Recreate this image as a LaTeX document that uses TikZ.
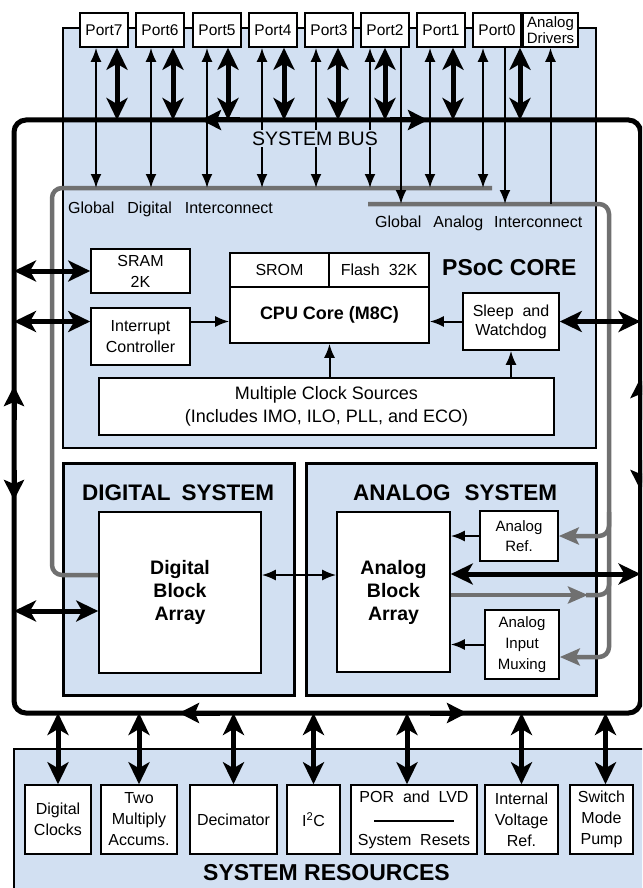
\documentclass[tikz,border=0pt]{standalone}
\usepackage{fontspec}
\setmainfont{Liberation Sans}
\usepackage{tikz}
\usetikzlibrary{arrows.meta,calc}
\definecolor{coreblue}{RGB}{210,224,242}
\definecolor{linkgrey}{RGB}{112,112,112}
\newcommand{\sizept}[2]{\fontsize{#1}{#2}\selectfont}
\tikzset{
  panel/.style={draw=black,line width=2pt,fill=coreblue},
  subpanel/.style={draw=black,line width=3pt,fill=coreblue},
  blockbox/.style={draw=black,line width=1.6pt,fill=white,align=center,
    inner sep=1pt,font=\sizept{16}{21}},
  portbox/.style={blockbox,minimum width=48,minimum height=34,font=\sizept{15.5}{18}},
  titletxt/.style={font=\bfseries\sizept{22.5}{26},anchor=base west,inner sep=0pt},
  linktxt/.style={font=\sizept{16}{18},anchor=base west,inner sep=0pt},
  sigarrow/.style={line width=2pt,-{Latex[length=14pt,width=11pt]}},
  sigboth/.style={line width=2pt,{Latex[length=14pt,width=11pt]}-{Latex[length=14pt,width=11pt]}},
  fatarrow/.style={line width=5pt,
    {Stealth[length=22pt,width=21pt,inset=6pt]}-{Stealth[length=22pt,width=21pt,inset=6pt]}},
  busline/.style={line width=5pt,rounded corners=12pt},
  bustip/.style={line width=5pt,-{Stealth[length=20pt,width=20pt,inset=4pt]}},
  linkline/.style={draw=linkgrey,line width=4.5pt,rounded corners=10pt},
  linktip/.style={linkline,-{Stealth[length=20pt,width=17pt,inset=4pt]}}
}

\begin{document}
\begin{tikzpicture}[x=1pt,y=-1pt]
  \useasboundingbox (0,0) rectangle (642,888);
  \clip (0,0) rectangle (642,888);
  % panels
  \draw[panel] (63,28) rectangle (596,448);
  \draw[subpanel] (63,463) rectangle (294,695);
  \draw[subpanel] (306,463) rectangle (596,695);
  \draw[panel] (14,749) rectangle (660,900);
  \coordinate (busnw) at (14,120);
  \coordinate (busse) at (640.5,713);
  \coordinate (gdi) at (492,188);
  \coordinate (gai) at (368,204);

  % ports
  \node[portbox] (p7) at (104,30) {Port7};
  \node[portbox] (p6) at (160,30) {Port6};
  \node[portbox] (p5) at (217,30) {Port5};
  \node[portbox] (p4) at (273,30) {Port4};
  \node[portbox] (p3) at (329,30) {Port3};
  \node[portbox] (p2) at (385,30) {Port2};
  \node[portbox] (p1) at (441,30) {Port1};
  \node[portbox] (p0) at (497,30) {Port0};
  \node[portbox,minimum width=55,font=\sizept{15}{16}] (drv) at (550.5,30) {Analog\\Drivers};

  % psoc core blocks
  \node[blockbox,minimum width=99,minimum height=44] (sram) at (140.5,271) {SRAM\\2K};
  \node[blockbox,minimum width=99,minimum height=57] (irq) at (140.5,336.5) {Interrupt\\Controller};
  \node[blockbox,minimum width=99,minimum height=34] (srom) at (279.5,270) {SROM};
  \node[blockbox,minimum width=100,minimum height=34] (flash) at (379,270) {Flash\ \ 32K};
  \node[blockbox,minimum width=199,minimum height=56,font=\bfseries\sizept{18}{22}] (cpu) at (329.5,315) {CPU Core (M8C)};
  \node[blockbox,minimum width=96,minimum height=57,font=\sizept{16}{19}] (sleep) at (511,321.5) {Sleep\ \ and\\Watchdog};
  \node[blockbox,minimum width=455,minimum height=57,font=\sizept{18}{23}] (clk) at (326.5,406.5) {Multiple Clock Sources\\(Includes IMO, ILO, PLL, and ECO)};

  % digital and analog systems
  \node[blockbox,minimum width=162,minimum height=161,font=\bfseries\sizept{19.5}{23}] (dba) at (180,592.5) {Digital\\Block\\Array};
  \node[blockbox,minimum width=113,minimum height=160,font=\bfseries\sizept{19.5}{23}] (aba) at (393.5,592) {Analog\\Block\\Array};
  \node[blockbox,minimum width=78,minimum height=50,font=\sizept{15}{20}] (aref) at (519,536) {Analog\\Ref.};
  \node[blockbox,minimum width=74,minimum height=69,font=\sizept{15}{21}] (amux) at (522,644.5) {Analog\\Input\\Muxing};

  % system resources
  \node[blockbox,minimum width=66,minimum height=69] (dclk) at (58,819.5) {Digital\\Clocks};
  \node[blockbox,minimum width=76,minimum height=69] (mac) at (139,819.5) {Two\\Multiply\\Accums.};
  \node[blockbox,minimum width=87,minimum height=69] (deci) at (233.5,819.5) {Decimator};
  \node[blockbox,minimum width=53,minimum height=69] (iic) at (313.5,819.5) {I\textsuperscript{2}C};
  \node[blockbox,minimum width=126,minimum height=69] (por) at (414,819.5) {POR\ \ and\ \ LVD\\[22pt]System\ \ Resets};
  \node[blockbox,minimum width=73,minimum height=69] (ivr) at (521.5,819.5) {Internal\\Voltage\\Ref.};
  \node[blockbox,minimum width=63,minimum height=69] (smp) at (601.5,819.5) {Switch\\Mode\\Pump};
  \draw[line width=1.2pt] ([xshift=-40pt,yshift=-1.5pt]por.center) -- ([xshift=40pt,yshift=-1.5pt]por.center);

  % global interconnect
  \draw[linkline] (gdi) -- (52,188) -- (52,575) -- ([yshift=17.5pt]dba.west);
  \draw[linktip] (gai) -- (609,204) -- (609,657) -- ([yshift=-12.5pt]amux.east);
  \draw[linktip] (609,512) -- (609,536) -- (aref.east);
  \draw[linktip] ([yshift=-3pt]aba.east) -- (588,595);
  \draw[linkline] (586,595) -- (609,595) -- (609,575);

  % port links
  \draw[sigboth] ([xshift=-8pt]p7.south) -- ([xshift=-8pt]p7.south |- gdi);
  \draw[sigboth] ([xshift=-9pt]p6.south) -- ([xshift=-9pt]p6.south |- gdi);
  \draw[sigboth] ([xshift=-10pt]p5.south) -- ([xshift=-10pt]p5.south |- gdi);
  \draw[sigboth] ([xshift=-11pt]p4.south) -- ([xshift=-11pt]p4.south |- gdi);
  \draw[sigboth] ([xshift=-13pt]p3.south) -- ([xshift=-13pt]p3.south |- gdi);
  \draw[sigboth] ([xshift=-15pt]p2.south) -- ([xshift=-15pt]p2.south |- gdi);
  \draw[sigboth] ([xshift=-11pt]p1.south) -- ([xshift=-11pt]p1.south |- gdi);
  \draw[sigboth] ([xshift=-14pt]p0.south) -- ([xshift=-14pt]p0.south |- gdi);
  \draw[sigarrow] ([xshift=16pt]p2.south) -- ([xshift=16pt]p2.south |- gai);
  \draw[sigarrow] ([xshift=8pt]p0.south) -- ([xshift=8pt]p0.south |- gai);
  \draw[sigarrow] (drv.south |- gai) -- (drv.south);
  \draw[fatarrow] ([xshift=13pt]p7.south) -- ([xshift=13pt]p7.south |- busnw);
  \draw[fatarrow] ([xshift=13pt]p6.south) -- ([xshift=13pt]p6.south |- busnw);
  \draw[fatarrow] ([xshift=11pt]p5.south) -- ([xshift=11pt]p5.south |- busnw);
  \draw[fatarrow] ([xshift=11pt]p4.south) -- ([xshift=11pt]p4.south |- busnw);
  \draw[fatarrow] ([xshift=9pt]p3.south) -- ([xshift=9pt]p3.south |- busnw);
  \draw[fatarrow] (p2.south) -- (p2.south |- busnw);
  \draw[fatarrow] ([xshift=12pt]p1.south) -- ([xshift=12pt]p1.south |- busnw);
  \draw[fatarrow] ([xshift=23pt]p0.south) -- ([xshift=23pt]p0.south |- busnw);

  % core links
  \draw[sigarrow] (irq.east |- sleep.west) -- (cpu.west |- sleep.west);
  \draw[sigarrow] (sleep.west) -- (sleep.west -| cpu.east);
  \draw[sigarrow] (clk.north -| cpu.south) -- (cpu.south);
  \draw[sigarrow] (clk.north -| sleep.south) -- (sleep.south);
  \draw[fatarrow] (sram.west -| busnw) -- (sram.west);
  \draw[fatarrow] (sleep.west -| busnw) -- (irq.west |- sleep.west);
  \draw[fatarrow] (sleep.east) -- (sleep.east -| busse);

  % system links
  \draw[sigboth] ([yshift=17.5pt]dba.east) -- ([yshift=17.5pt]dba.east -| aba.west);
  \draw[fatarrow] ([yshift=-18.5pt]dba.west -| busnw) -- ([yshift=-18.5pt]dba.west);
  \draw[fatarrow] ([yshift=18pt]aba.east) -- ([yshift=18pt]aba.east -| busse);
  \draw[sigarrow] (aref.west) -- (aref.west -| aba.east);
  \draw[sigarrow] (amux.west) -- (amux.west -| aba.east);
  \draw[fatarrow] (dclk.north |- busse) -- (dclk.north);
  \draw[fatarrow] (mac.north |- busse) -- (mac.north);
  \draw[fatarrow] (deci.north |- busse) -- (deci.north);
  \draw[fatarrow] (iic.north |- busse) -- (iic.north);
  \draw[fatarrow] ([xshift=-7pt]por.north |- busse) -- ([xshift=-7pt]por.north);
  \draw[fatarrow] (ivr.north |- busse) -- (ivr.north);
  \draw[fatarrow] ([xshift=4pt]smp.north |- busse) -- ([xshift=4pt]smp.north);

  % system bus
  \draw[busline] (busnw) rectangle (busse);
  \draw[bustip] (240,120) -- (201,120);
  \draw[bustip] (390,120) -- (428,120);
  \draw[bustip] (14,420) -- (14,386);
  \draw[bustip] (14,470) -- (14,500);
  \draw[bustip] (220,713) -- (179,713);
  \draw[bustip] (430,713) -- (467,713);
  \draw[bustip] (640.5,420) -- (640.5,378);
  \draw[bustip] (640.5,460) -- (640.5,490);

  % labels
  \node[font=\sizept{19.5}{22},fill=coreblue,inner sep=1.5pt,anchor=base] (busname) at (315,145) {SYSTEM BUS};
  \node[linktxt] (gdiname) at (68,213) {Global\hspace{13pt}Digital\hspace{13pt}Interconnect};
  \node[linktxt] (gainame) at (375,227) {Global\hspace{12pt}Analog\hspace{11pt}Interconnect};
  \node[titletxt,font=\bfseries\sizept{23}{26}] (corename) at (442,275) {PSoC CORE};
  \node[titletxt] (digname) at (82,500) {DIGITAL\hspace{11pt}SYSTEM};
  \node[titletxt] (ananame) at (353,500) {ANALOG\hspace{14pt}SYSTEM};
  \node[titletxt,font=\bfseries\sizept{23}{26}] (resname) at (203,880) {SYSTEM RESOURCES};
\end{tikzpicture}
\end{document}
